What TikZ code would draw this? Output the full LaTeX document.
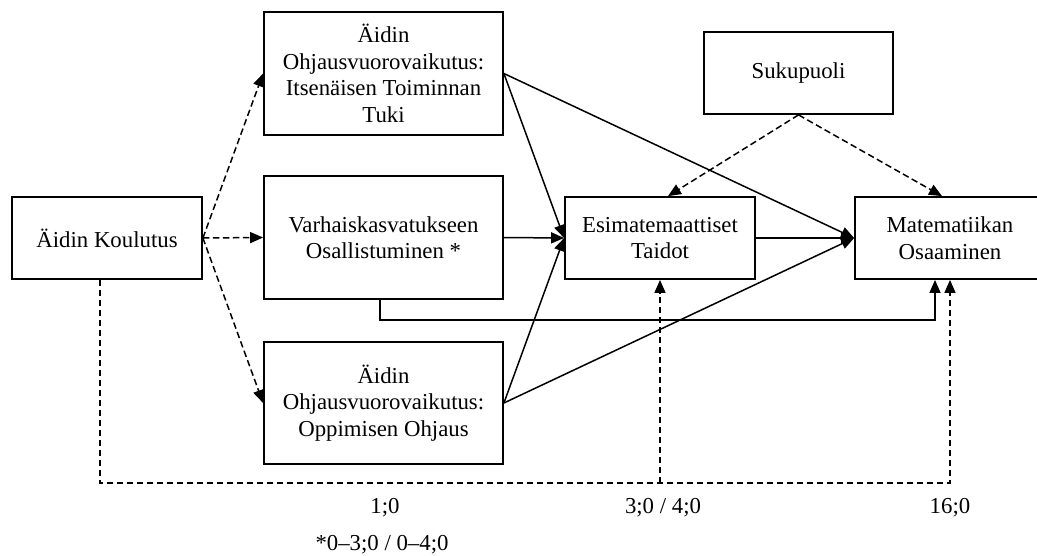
\documentclass[tikz,border=0pt]{standalone}
\usepackage{fontspec}
\setmainfont{Liberation Serif}
\usetikzlibrary{arrows.meta}
\tikzset{
  box/.style={draw, line width=1.8pt, rectangle, inner sep=0pt, align=center,
    font=\fontsize{22.8pt}{26.5pt}\selectfont},
  lbl/.style={inner sep=0pt, font=\fontsize{22.8pt}{26.5pt}\selectfont},
  sline/.style={line width=1.5pt, -{Triangle[length=13pt,width=11pt]}},
  dline/.style={line width=1.5pt, dash pattern=on 6.5pt off 3.5pt},
  darr/.style={dline, -{Triangle[length=13pt,width=11pt]}}
}
\begin{document}
\begin{tikzpicture}[x=1pt,y=-1pt]
\useasboundingbox (0,0) rectangle (1037,555);
\clip (0,0) rectangle (1037,555);
\node[box, minimum width=190pt, minimum height=82pt] (kou) at (107,238) {Äidin Koulutus};
\node[box, minimum width=239pt, minimum height=123pt] (top) at (383.5,73.5) {Äidin\\Ohjausvuorovaikutus:\\Itsenäisen Toiminnan\\Tuki};
\node[box, minimum width=239pt, minimum height=123pt] (mid) at (383.5,237.5) {Varhaiskasvatukseen\\Osallistuminen *};
\node[box, minimum width=239pt, minimum height=122pt] (bot) at (383.5,403) {Äidin\\Ohjausvuorovaikutus:\\Oppimisen Ohjaus};
\node[box, minimum width=190pt, minimum height=82pt] (esim) at (660,238) {Esimatemaattiset\\Taidot};
\node[box, minimum width=190pt, minimum height=82pt] (mat) at (950,238) {Matematiikan\\Osaaminen};
\node[box, minimum width=189pt, minimum height=82pt] (suk) at (798.5,73) {Sukupuoli};

\node[lbl] (t1) at (385,508) {1;0};
\node[lbl] (t2) at (663,508) {3;0 / 4;0};
\node[lbl] (t3) at (950,508) {16;0};
\node[lbl] (t4) at (382,545) {*0–3;0 / 0–4;0};

% dashed from Koulutus
\draw[darr] (kou.east) -- (top.west);
\draw[darr] (kou.east) -- (mid.west);
\draw[darr] (kou.east) -- (bot.west);
\coordinate (c1) at (660,483);
\draw[darr] ([xshift=-7pt]kou.south) |- (c1) -| (mat.south);
\draw[darr] (c1) -- (esim.south);

% Sukupuoli
\draw[darr] (suk.south) -- ([xshift=8pt]esim.north);
\draw[darr] (suk.south) -- ([xshift=-8pt]mat.north);

% solid
\draw[sline] (top.east) -- (esim.west);
\draw[sline] (top.east) -- (mat.west);
\draw[sline] (mid.east) -- (esim.west);
\draw[sline] (bot.east) -- (esim.west);
\draw[sline] (bot.east) -- (mat.west);
\draw[sline] (esim.east) -- (mat.west);
\draw[sline] ([xshift=-3.5pt]mid.south) -- ++(0,20) -| ([xshift=-15pt]mat.south);
\end{tikzpicture}
\end{document}
